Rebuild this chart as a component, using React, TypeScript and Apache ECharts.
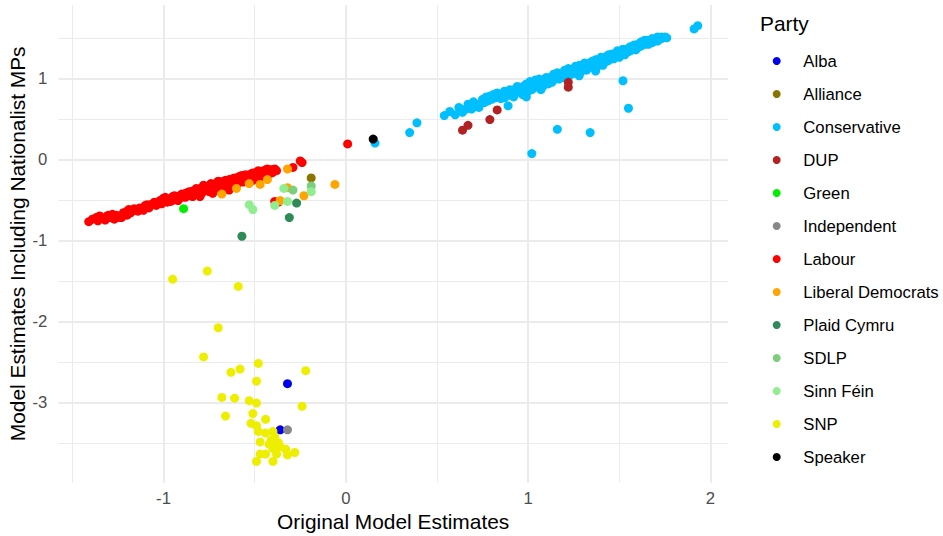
import React, { useEffect, useRef } from "react";
import * as echarts from "echarts";

const parties = [
  "Alba", "Alliance", "Conservative", "DUP", "Green", "Independent", "Labour",
  "Liberal Democrats", "Plaid Cymru", "SDLP", "Sinn Féin", "SNP", "Speaker",
];
const partyColors = [
  "#0000EE", "#8B7500", "#00BFFF", "#B22222", "#00EE00", "#888888", "#FF0000",
  "#FFA500", "#2E8B57", "#7CCD7C", "#90EE90", "#EEEE00", "#000000",
];

const alba = [[-0.32, -2.77], [-0.36, -3.34]];
const alliance = [[-0.19, -0.23]];
const conservative = [
  [0.35, 0.33], [0.39, 0.45], [0.54, 0.54], [0.57, 0.59], [0.60, 0.55], [0.62, 0.64], [0.63, 0.62],
  [0.66, 0.62], [0.68, 0.66], [0.71, 0.68], [0.72, 0.65], [0.73, 0.64], [0.75, 0.74], [0.76, 0.70],
  [0.78, 0.72], [0.79, 0.78], [0.80, 0.74], [0.82, 0.76], [0.83, 0.82], [0.84, 0.78], [0.86, 0.80],
  [0.87, 0.76], [0.89, 0.66], [0.88, 0.83], [0.90, 0.79], [0.91, 0.84], [0.92, 0.81], [0.93, 0.87],
  [0.94, 0.84], [0.95, 0.89], [0.96, 0.82], [0.97, 0.86], [0.98, 0.91], [0.99, 0.77], [1.00, 0.88],
  [1.01, 0.92], [1.02, 0.86], [1.03, 0.94], [1.04, 0.90], [1.05, 0.97], [1.06, 0.92], [1.07, 0.86],
  [1.08, 0.96], [1.09, 0.99], [1.10, 0.94], [1.11, 1.00], [1.12, 0.97], [1.13, 1.02], [1.14, 0.98],
  [1.15, 1.04], [1.16, 1.01], [1.17, 1.05], [1.18, 1.02], [1.19, 1.07], [1.20, 1.04], [1.21, 1.08],
  [1.22, 1.03], [1.23, 1.10], [1.24, 1.06], [1.25, 1.12], [1.26, 1.09], [1.27, 1.14], [1.28, 1.03],
  [1.29, 1.12], [1.30, 1.16], [1.31, 1.11], [1.32, 1.17], [1.33, 1.13], [1.34, 1.19], [1.35, 1.15],
  [1.36, 1.21], [1.37, 1.09], [1.38, 1.23], [1.39, 1.17], [1.40, 1.22], [1.41, 1.19], [1.42, 1.25],
  [1.43, 1.27], [1.44, 1.22], [1.45, 1.28], [1.46, 1.24], [1.47, 1.30], [1.48, 1.27], [1.49, 1.31],
  [1.50, 1.26], [1.51, 1.33], [1.52, 1.30], [1.53, 1.35], [1.54, 1.32], [1.55, 1.37], [1.56, 1.34],
  [1.57, 1.39], [1.58, 1.36], [1.59, 1.41], [1.60, 1.38], [1.61, 1.43], [1.62, 1.40], [1.63, 1.44],
  [1.65, 1.45], [1.66, 1.42], [1.67, 1.47], [1.69, 1.46], [1.70, 1.49], [1.72, 1.48], [1.73, 1.51],
  [1.75, 1.51], [1.74, 1.50], [1.91, 1.61], [1.93, 1.65],
  [0.64, 0.58], [0.67, 0.68], [0.69, 0.62], [0.70, 0.71], [0.74, 0.69], [0.77, 0.77], [0.81, 0.80],
  [0.85, 0.75], [0.87, 0.84], [0.90, 0.86], [0.92, 0.77], [0.94, 0.90], [0.96, 0.88], [0.97, 0.80],
  [0.99, 0.93], [1.00, 0.84], [1.01, 0.96], [1.03, 0.88], [1.04, 0.98], [1.06, 0.99], [1.07, 0.93],
  [1.08, 0.90], [1.10, 1.01], [1.11, 0.93], [1.13, 0.95], [1.14, 1.05], [1.16, 1.07], [1.17, 0.99],
  [1.19, 1.01], [1.20, 1.10], [1.22, 1.12], [1.23, 1.04], [1.25, 1.06], [1.26, 1.15], [1.28, 1.16],
  [1.29, 1.08], [1.31, 1.19], [1.32, 1.10], [1.34, 1.14], [1.35, 1.21], [1.37, 1.23], [1.38, 1.15],
  [1.40, 1.26], [1.41, 1.16], [1.43, 1.21], [1.44, 1.29], [1.46, 1.30], [1.47, 1.24], [1.49, 1.34],
  [1.50, 1.29], [1.52, 1.36], [1.53, 1.29], [1.55, 1.33], [1.56, 1.39], [1.58, 1.41], [1.59, 1.35],
  [1.61, 1.39], [1.62, 1.45], [1.64, 1.42], [1.64, 1.47], [1.66, 1.47], [1.68, 1.44], [1.68, 1.49],
  [1.71, 1.46], [1.71, 1.51], [1.73, 1.49], [1.76, 1.50],
  [0.16, 0.20], [1.02, 0.07], [1.16, 0.37], [1.34, 0.33], [1.52, 0.97], [1.55, 0.63],
];
const dup = [[0.64, 0.36], [0.67, 0.42], [0.79, 0.49], [0.83, 0.61], [1.22, 0.95], [1.22, 0.89]];
const green = [[-0.89, -0.61]];
const independent = [[-0.65, -0.37], [-0.32, -3.34]];
const labour = [
  [-1.41, -0.77], [-1.37, -0.72], [-1.36, -0.76], [-1.33, -0.73], [-1.30, -0.69], [-1.29, -0.72],
  [-1.27, -0.74], [-1.26, -0.69], [-1.24, -0.70], [-1.23, -0.72], [-1.21, -0.67], [-1.20, -0.64],
  [-1.19, -0.62], [-1.18, -0.66], [-1.16, -0.61], [-1.15, -0.63], [-1.14, -0.64], [-1.12, -0.61],
  [-1.10, -0.57], [-1.09, -0.56], [-1.08, -0.60], [-1.06, -0.55], [-1.05, -0.53], [-1.03, -0.54],
  [-1.00, -0.48], [-0.99, -0.51], [-0.98, -0.53], [-0.97, -0.49], [-0.95, -0.46], [-0.94, -0.50],
  [-0.93, -0.48], [-0.91, -0.45], [-0.90, -0.47], [-0.89, -0.44], [-0.88, -0.47], [-0.87, -0.42],
  [-0.86, -0.40], [-0.85, -0.43], [-0.84, -0.46], [-0.83, -0.41], [-0.82, -0.36], [-0.81, -0.39],
  [-0.80, -0.46], [-0.79, -0.35], [-0.78, -0.32], [-0.77, -0.37], [-0.76, -0.38], [-0.76, -0.34],
  [-0.75, -0.33], [-0.74, -0.30], [-0.73, -0.42], [-0.72, -0.35], [-0.71, -0.29], [-0.70, -0.32],
  [-0.69, -0.28], [-0.68, -0.34], [-0.67, -0.30], [-0.66, -0.26], [-0.65, -0.31], [-0.64, -0.38],
  [-0.63, -0.27], [-0.62, -0.24], [-0.62, -0.28], [-0.61, -0.29], [-0.60, -0.32], [-0.59, -0.22],
  [-0.58, -0.26], [-0.57, -0.20], [-0.57, -0.25], [-0.56, -0.28], [-0.55, -0.23], [-0.54, -0.21],
  [-0.53, -0.25], [-0.52, -0.18], [-0.52, -0.22], [-0.51, -0.26], [-0.50, -0.20], [-0.49, -0.16],
  [-0.48, -0.19], [-0.47, -0.22], [-0.47, -0.17], [-0.46, -0.15], [-0.45, -0.18], [-0.44, -0.13],
  [-0.43, -0.16], [-0.42, -0.14], [-0.41, -0.17], [-0.40, -0.13], [-0.39, -0.52], [-0.29, -0.10],
  [-0.25, -0.02], [-0.24, -0.04], [0.01, 0.19],
  [-1.39, -0.74], [-1.35, -0.70], [-1.32, -0.75], [-1.31, -0.70], [-1.28, -0.68], [-1.25, -0.72],
  [-1.22, -0.66], [-1.20, -0.69], [-1.17, -0.63], [-1.13, -0.60], [-1.11, -0.63], [-1.07, -0.56],
  [-1.04, -0.57], [-1.02, -0.51], [-1.01, -0.55], [-0.99, -0.47], [-0.96, -0.52], [-0.94, -0.45],
  [-0.92, -0.51], [-0.90, -0.43], [-0.88, -0.42], [-0.86, -0.45], [-0.84, -0.39], [-0.82, -0.43],
  [-0.80, -0.37], [-0.79, -0.42], [-0.77, -0.34], [-0.75, -0.40], [-0.73, -0.32], [-0.71, -0.36],
  [-0.70, -0.27], [-0.69, -0.33], [-0.67, -0.27], [-0.66, -0.33], [-0.64, -0.25], [-0.63, -0.31],
  [-0.61, -0.23], [-0.60, -0.28], [-0.58, -0.21], [-0.57, -0.28], [-0.55, -0.19], [-0.54, -0.26],
  [-0.53, -0.20], [-0.51, -0.17], [-0.50, -0.23], [-0.49, -0.20], [-0.48, -0.14], [-0.46, -0.19],
  [-0.45, -0.14], [-0.44, -0.17], [-0.43, -0.12], [-0.42, -0.18], [-0.41, -0.13], [-0.40, -0.16],
  [-0.39, -0.12], [-0.38, -0.14], [-0.37, -0.53],
];
const libDems = [
  [-0.32, -0.12], [-0.43, -0.25], [-0.47, -0.31], [-0.53, -0.30], [-0.60, -0.36], [-0.68, -0.43],
  [-0.32, -0.35], [-0.36, -0.51], [-0.23, -0.45], [-0.06, -0.31],
];
const plaid = [[-0.27, -0.54], [-0.31, -0.72], [-0.57, -0.95]];
const sdlp = [[-0.29, -0.38], [-0.19, -0.33]];
const sinnFein = [
  [-0.53, -0.56], [-0.51, -0.62], [-0.39, -0.57], [-0.32, -0.52], [-0.34, -0.36], [-0.19, -0.40],
];
const snp = [
  [-0.95, -1.48], [-0.76, -1.38], [-0.59, -1.57], [-0.70, -2.08], [-0.78, -2.44], [-0.63, -2.63],
  [-0.58, -2.59], [-0.48, -2.52], [-0.49, -2.74], [-0.22, -2.61], [-0.68, -2.94], [-0.61, -2.95],
  [-0.53, -2.98], [-0.49, -3.01], [-0.24, -3.05], [-0.66, -3.17], [-0.51, -3.14], [-0.44, -3.21],
  [-0.52, -3.26], [-0.49, -3.29], [-0.48, -3.36], [-0.44, -3.38], [-0.40, -3.36], [-0.39, -3.43],
  [-0.47, -3.49], [-0.42, -3.52], [-0.37, -3.50], [-0.40, -3.57], [-0.33, -3.58], [-0.28, -3.62],
  [-0.32, -3.65], [-0.38, -3.64], [-0.44, -3.64], [-0.47, -3.64], [-0.49, -3.73], [-0.40, -3.73],
  [-0.41, -3.47], [-0.36, -3.55],
];
const speaker = [[0.15, 0.25]];

const seriesData = [
  alba, alliance, conservative, dup, green, independent, labour,
  libDems, plaid, sdlp, sinnFein, snp, speaker,
];

const xGrid = [-1.5, -1, -0.5, 0, 0.5, 1, 1.5, 2];
const yGrid = [-3.5, -3, -2.5, -2, -1.5, -1, -0.5, 0, 0.5, 1, 1.5];
const xTicks = [-1, 0, 1, 2];
const yTicks = [-3, -2, -1, 0, 1];

const FONT = "'Liberation Sans', Arial, sans-serif";

export default function App() {
  const ref = useRef<HTMLDivElement>(null);
  useEffect(() => {
    if (!ref.current) return;
    const chart = echarts.init(ref.current, null, { renderer: "svg" });
    const isInt = (v: number) => Math.abs(v - Math.round(v)) < 1e-6;
    const gridLine = (v: number) => ({
      lineStyle: { color: "#EBEBEB", width: isInt(v) ? 2 : 1, type: "solid" },
    });
    chart.setOption({
      animation: false,
      backgroundColor: "#FFFFFF",
      textStyle: { fontFamily: FONT },
      grid: {
        left: 58.3, right: 215, top: 5, bottom: 53.3,
        containLabel: false, outerBoundsMode: "none",
      },
      title: {
        text: "Party",
        left: 760,
        top: 13,
        padding: 0,
        textStyle: { fontFamily: FONT, fontSize: 20.9, fontWeight: "normal", color: "#000000" },
      },
      legend: {
        data: parties,
        orient: "vertical",
        left: 772.7,
        top: 51,
        padding: 0,
        itemWidth: 8,
        itemHeight: 8,
        itemGap: 13,
        icon: "circle",
        selectedMode: false,
        textStyle: {
          fontFamily: FONT, fontSize: 16.7, color: "#000000", lineHeight: 20,
          padding: [0, 0, 0, 17.6],
        },
      },
      xAxis: {
        type: "value",
        min: -1.577,
        max: 2.096,
        name: "Original Model Estimates",
        nameLocation: "middle",
        nameGap: 28,
        nameMoveOverlap: false,
        nameTextStyle: { fontFamily: FONT, fontSize: 20.9, color: "#000000" },
        axisLine: { show: false },
        axisTick: { show: false },
        splitLine: { show: false },
        axisLabel: {
          customValues: xTicks,
          formatter: (v: number) => (isInt(v) ? String(Math.round(v)) : ""),
          fontFamily: FONT,
          fontSize: 16.7,
          color: "#4D4D4D",
          margin: 7,
        },
      },
      yAxis: {
        type: "value",
        min: -3.993,
        max: 1.905,
        name: "Model Estimates Including Nationalist MPs",
        nameLocation: "middle",
        nameGap: 30,
        nameMoveOverlap: false,
        nameTextStyle: { fontFamily: FONT, fontSize: 20.9, color: "#000000" },
        axisLine: { show: false },
        axisTick: { show: false },
        splitLine: { show: false },
        axisLabel: {
          customValues: yTicks,
          formatter: (v: number) => (isInt(v) ? String(Math.round(v)) : ""),
          fontFamily: FONT,
          fontSize: 16.7,
          color: "#4D4D4D",
          margin: 11,
        },
      },
      series: [
        {
          name: "__grid",
          type: "line",
          data: [],
          z: 0,
          silent: true,
          markLine: {
            z: 0,
            silent: true,
            symbol: ["none", "none"],
            label: { show: false },
            animation: false,
            data: [
              ...xGrid.map((v) => ({ xAxis: v, ...gridLine(v) })),
              ...yGrid.map((v) => ({ yAxis: v, ...gridLine(v) })),
            ],
          },
        },
        ...parties.map((p, i) => ({
          name: p,
          type: "scatter",
          data: seriesData[i],
          symbol: "circle",
          symbolSize: 9,
          z: 2,
          itemStyle: { color: partyColors[i], opacity: 1 },
          emphasis: { disabled: true },
        })),
      ],
    });
    return () => chart.dispose();
  }, []);
  return (
    <div
      ref={ref}
      style={{ position: "fixed", left: 0, top: 0, width: 943, height: 536, background: "#fff" }}
    />
  );
}
